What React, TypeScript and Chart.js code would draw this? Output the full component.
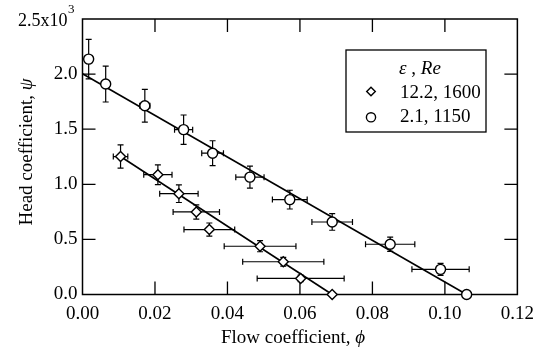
import React, { useEffect, useRef } from 'react';
import { Chart, registerables } from 'chart.js';

Chart.register(...registerables);

const FONT = '"Liberation Serif", "Times New Roman", serif';

// Axis ticks
const xTickValues = [0, 0.02, 0.04, 0.06, 0.08, 0.1, 0.12];
const yTickValues = [0, 0.5, 1.0, 1.5, 2.0, 2.5];
const yTopTickBase = '2.5x10';
const yTopTickExp = '3';

// Titles
const xTitle = 'Flow coefficient, ';
const xTitleSym = 'ϕ';
const yTitle = 'Head coefficient, ';
const yTitleSym = 'ψ';
const legendTitleSym = 'ε';
const legendTitleMid = ' , ';
const legendTitleRe = 'Re';
const seriesLabels = ['12.2, 1600', '2.1, 1150'];

// Series A: ε = 12.2, Re = 1600 (diamonds)
const phiA = [0.0105, 0.0208, 0.0266, 0.0314, 0.035, 0.049, 0.0554, 0.0602, 0.0689];
const psiA = [1.252, 1.087, 0.915, 0.749, 0.589, 0.438, 0.297, 0.146, 0];
const phiErrA = [0.002, 0.0039, 0.0053, 0.0064, 0.007, 0.0099, 0.0112, 0.012, 0];
const psiErrA = [0.105, 0.09, 0.08, 0.065, 0.06, 0.05, 0.04, 0.03, 0];

// Series B: ε = 2.1, Re = 1150 (circles)
const phiB = [0.0017, 0.0064, 0.0172, 0.0279, 0.0359, 0.0462, 0.0572, 0.0689, 0.0849, 0.0988, 0.106];
const psiB = [2.136, 1.91, 1.713, 1.496, 1.282, 1.065, 0.861, 0.658, 0.456, 0.228, 0];
const phiErrB = [0, 0, 0.0014, 0.0025, 0.003, 0.0039, 0.0048, 0.0056, 0.0068, 0.0079, 0];
const psiErrB = [0.18, 0.163, 0.148, 0.133, 0.113, 0.1, 0.085, 0.075, 0.065, 0.055, 0];

// Linear fits
const fitPhiA = [0.0105, 0.0689];
const fitPsiA = [1.252, 0];
const fitPhiB = [0, 0.106];
const fitPsiB = [2.003, 0];

const toPts = (xs: number[], ys: number[]) => xs.map((x, i) => ({ x, y: ys[i] }));

export default function App() {
  const ref = useRef<HTMLCanvasElement>(null);

  useEffect(() => {
    const canvas = ref.current!;

    const framePlugin = {
      id: 'frameAndErrors',
      beforeDatasetsDraw(chart: any) {
        const { ctx, chartArea: a, scales } = chart;
        const xs = scales.x;
        const ys = scales.y;
        ctx.save();
        ctx.strokeStyle = '#000';
        // frame
        ctx.lineWidth = 1.5;
        ctx.strokeRect(a.left, a.top, a.right - a.left, a.bottom - a.top);
        // inward ticks
        const tl = 13;
        ctx.lineWidth = 1.3;
        ctx.beginPath();
        xTickValues.slice(1, -1).forEach((v) => {
          const px = xs.getPixelForValue(v);
          ctx.moveTo(px, a.bottom);
          ctx.lineTo(px, a.bottom - tl);
          ctx.moveTo(px, a.top);
          ctx.lineTo(px, a.top + tl);
        });
        yTickValues.slice(1, -1).forEach((v) => {
          const py = ys.getPixelForValue(v);
          ctx.moveTo(a.left, py);
          ctx.lineTo(a.left + tl, py);
          ctx.moveTo(a.right, py);
          ctx.lineTo(a.right - tl, py);
        });
        ctx.stroke();

        // top y label with superscript exponent
        const topY = ys.getPixelForValue(yTickValues[yTickValues.length - 1]);
        ctx.fillStyle = '#000';
        ctx.textAlign = 'right';
        ctx.textBaseline = 'alphabetic';
        ctx.font = `18px ${FONT}`;
        ctx.fillText(yTopTickBase, a.left - 15, topY + 6.5);
        ctx.textAlign = 'left';
        ctx.font = `13px ${FONT}`;
        ctx.fillText(yTopTickExp, a.left - 14.5, topY - 6);

        // error bars
        ctx.lineWidth = 1.2;
        const cap = 3;
        const series = [
          [phiA, psiA, phiErrA, psiErrA],
          [phiB, psiB, phiErrB, psiErrB],
        ];
        for (const [px, py, ex, ey] of series) {
          px.forEach((v: number, i: number) => {
            const cx = xs.getPixelForValue(v);
            const cy = ys.getPixelForValue(py[i]);
            ctx.beginPath();
            if (ey[i] > 0) {
              const t = ys.getPixelForValue(py[i] + ey[i]);
              const b = ys.getPixelForValue(py[i] - ey[i]);
              ctx.moveTo(cx, t);
              ctx.lineTo(cx, b);
              ctx.moveTo(cx - cap, t);
              ctx.lineTo(cx + cap, t);
              ctx.moveTo(cx - cap, b);
              ctx.lineTo(cx + cap, b);
            }
            if (ex[i] > 0) {
              const l = xs.getPixelForValue(v - ex[i]);
              const r = xs.getPixelForValue(v + ex[i]);
              ctx.moveTo(l, cy);
              ctx.lineTo(r, cy);
              ctx.moveTo(l, cy - cap);
              ctx.lineTo(l, cy + cap);
              ctx.moveTo(r, cy - cap);
              ctx.lineTo(r, cy + cap);
            }
            ctx.stroke();
          });
        }
        ctx.restore();
      },
      afterDraw(chart: any) {
        const { ctx } = chart;
        ctx.save();
        ctx.fillStyle = '#000';
        ctx.strokeStyle = '#000';

        // x title
        ctx.font = `19px ${FONT}`;
        const w1 = ctx.measureText(xTitle).width;
        ctx.font = `italic 19px ${FONT}`;
        const w2 = ctx.measureText(xTitleSym).width;
        let sx = 293 - (w1 + w2) / 2;
        ctx.textBaseline = 'alphabetic';
        ctx.textAlign = 'left';
        ctx.font = `19px ${FONT}`;
        ctx.fillText(xTitle, sx, 343);
        ctx.font = `italic 19px ${FONT}`;
        ctx.fillText(xTitleSym, sx + w1, 343);

        // y title
        ctx.save();
        ctx.translate(31.5, 152);
        ctx.rotate(-Math.PI / 2);
        ctx.font = `19px ${FONT}`;
        const h1 = ctx.measureText(yTitle).width;
        ctx.font = `italic 19px ${FONT}`;
        const h2 = ctx.measureText(yTitleSym).width;
        sx = -(h1 + h2) / 2;
        ctx.font = `19px ${FONT}`;
        ctx.fillText(yTitle, sx, 0);
        ctx.font = `italic 19px ${FONT}`;
        ctx.fillText(yTitleSym, sx + h1, 0);
        ctx.restore();

        // legend box
        const L = 346, T = 50, R = 486, B = 132;
        ctx.fillStyle = '#fff';
        ctx.fillRect(L, T, R - L, B - T);
        ctx.lineWidth = 1.3;
        ctx.strokeRect(L, T, R - L, B - T);
        ctx.fillStyle = '#000';
        // legend title
        ctx.font = `italic 19px ${FONT}`;
        const e1 = ctx.measureText(legendTitleSym).width;
        ctx.font = `19px ${FONT}`;
        const e2 = ctx.measureText(legendTitleMid).width;
        ctx.font = `italic 19px ${FONT}`;
        const e3 = ctx.measureText(legendTitleRe).width;
        const lx = 420 - (e1 + e2 + e3) / 2;
        ctx.fillText(legendTitleSym, lx, 73.5);
        ctx.font = `19px ${FONT}`;
        ctx.fillText(legendTitleMid, lx + e1, 73.5);
        ctx.font = `italic 19px ${FONT}`;
        ctx.fillText(legendTitleRe, lx + e1 + e2, 73.5);
        // legend rows
        ctx.font = `19px ${FONT}`;
        ctx.fillText(seriesLabels[0], 400, 97.5);
        ctx.fillText(seriesLabels[1], 400, 121.5);
        ctx.fillStyle = '#fff';
        ctx.lineWidth = 1.4;
        ctx.beginPath();
        ctx.moveTo(371, 91.5 - 4.3);
        ctx.lineTo(371 + 4.3, 91.5);
        ctx.lineTo(371, 91.5 + 4.3);
        ctx.lineTo(371 - 4.3, 91.5);
        ctx.closePath();
        ctx.fill();
        ctx.stroke();
        ctx.beginPath();
        ctx.arc(371, 117.3, 4.6, 0, Math.PI * 2);
        ctx.fill();
        ctx.stroke();
        ctx.restore();
      },
    };

    const chart = new Chart(canvas, {
      type: 'scatter',
      data: {
        datasets: [
          {
            label: seriesLabels[0],
            data: toPts(phiA, psiA),
            pointStyle: 'rectRot',
            pointRadius: 5,
            backgroundColor: '#fff',
            borderColor: '#000',
            borderWidth: 1.4,
            clip: false,
            order: 1,
          } as any,
          {
            label: seriesLabels[1],
            data: toPts(phiB, psiB),
            pointStyle: 'circle',
            pointRadius: 5,
            backgroundColor: '#fff',
            borderColor: '#000',
            borderWidth: 1.4,
            clip: false,
            order: 1,
          } as any,
          {
            label: 'fitA',
            data: toPts(fitPhiA, fitPsiA),
            showLine: true,
            pointRadius: 0,
            borderColor: '#000',
            borderWidth: 1.6,
            clip: false,
            order: 2,
          } as any,
          {
            label: 'fitB',
            data: toPts(fitPhiB, fitPsiB),
            showLine: true,
            pointRadius: 0,
            borderColor: '#000',
            borderWidth: 1.6,
            clip: false,
            order: 2,
          } as any,
        ],
      },
      options: {
        responsive: false,
        animation: false,
        devicePixelRatio: 1,
        layout: { padding: { top: 19, right: 23, left: 0, bottom: 0 } },
        plugins: {
          legend: { display: false },
          tooltip: { enabled: false },
        },
        scales: {
          x: {
            type: 'linear',
            min: 0,
            max: 0.12,
            afterBuildTicks: (s: any) => {
              s.ticks = xTickValues.map((v) => ({ value: v }));
            },
            ticks: {
              color: '#000',
              font: { family: FONT, size: 19 },
              padding: 8,
              maxRotation: 0,
              callback: (v: any) => Number(v).toFixed(2),
            },
            grid: { display: false, drawTicks: false },
            border: { display: false },
            afterFit: (s: any) => {
              s.height = 64.5;
            },
          },
          y: {
            type: 'linear',
            min: 0,
            max: 2.5,
            afterBuildTicks: (s: any) => {
              s.ticks = yTickValues.map((v) => ({ value: v }));
            },
            ticks: {
              color: '#000',
              font: { family: FONT, size: 19 },
              padding: 5,
              callback: (v: any) => (Number(v) === 2.5 ? '' : Number(v).toFixed(1)),
            },
            grid: { display: false, drawTicks: false },
            border: { display: false },
            afterFit: (s: any) => {
              s.width = 82.5;
            },
          },
        },
      },
      plugins: [framePlugin],
    });

    return () => chart.destroy();
  }, []);

  return (
    <div style={{ position: 'absolute', left: 0, top: 0, width: 542, height: 359, background: '#fff' }}>
      <canvas ref={ref} width={542} height={359} style={{ display: 'block' }} />
    </div>
  );
}
